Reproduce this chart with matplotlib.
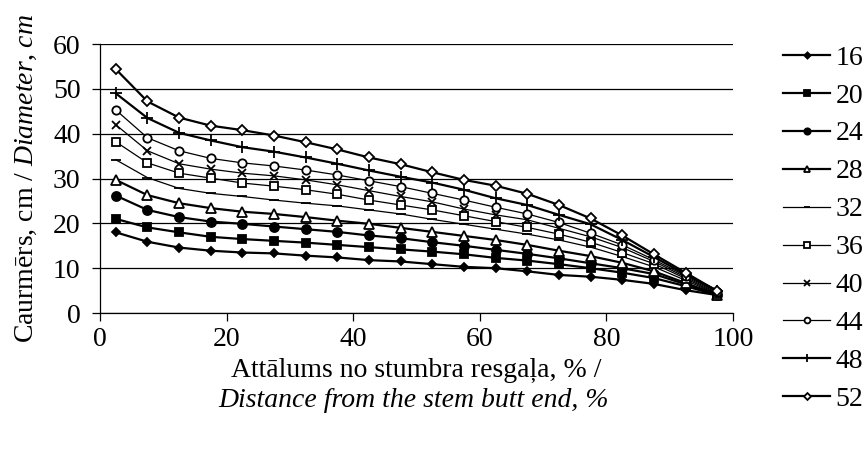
import matplotlib
matplotlib.use("Agg")
import matplotlib.pyplot as plt
import numpy as np

plt.rcParams['font.family'] = ['Liberation Serif', 'DejaVu Serif']
plt.rcParams['mathtext.fontset'] = 'custom'
plt.rcParams['mathtext.rm'] = 'Liberation Serif'
plt.rcParams['mathtext.it'] = 'Liberation Serif:italic'

# distance from butt end, %
distance = [2.5, 7.5, 12.5, 17.5, 22.5, 27.5, 32.5, 37.5, 42.5, 47.5,
            52.5, 57.5, 62.5, 67.5, 72.5, 77.5, 82.5, 87.5, 92.5, 97.5]

d16 = [18.0, 15.9, 14.6, 13.9, 13.5, 13.3, 12.8, 12.4, 11.8, 11.5,
       10.9, 10.3, 10.0, 9.3, 8.5, 8.1, 7.4, 6.5, 5.1, 4.0]
d20 = [21.0, 19.1, 18.0, 17.0, 16.5, 16.1, 15.7, 15.2, 14.7, 14.2,
       13.7, 13.1, 12.3, 11.7, 10.9, 10.0, 9.0, 7.8, 6.0, 4.0]
d24 = [26.2, 23.0, 21.4, 20.4, 19.9, 19.3, 18.7, 18.1, 17.3, 16.7,
       15.8, 15.0, 14.1, 13.2, 12.2, 11.1, 10.0, 8.7, 6.4, 4.0]
d28 = [29.7, 26.3, 24.5, 23.4, 22.6, 22.1, 21.4, 20.6, 19.9, 19.0,
       18.1, 17.2, 16.3, 15.2, 13.9, 12.7, 11.2, 9.3, 6.7, 4.1]
d32 = [34.2, 30.2, 27.8, 26.7, 26.0, 25.2, 24.5, 23.9, 23.0, 22.1,
       20.9, 19.8, 18.7, 17.6, 16.3, 14.7, 12.6, 10.3, 7.3, 4.2]
d36 = [38.2, 33.5, 31.2, 30.1, 29.0, 28.3, 27.5, 26.5, 25.2, 24.1,
       23.0, 21.7, 20.4, 19.1, 17.6, 15.8, 13.5, 11.0, 7.7, 4.3]
d40 = [42.0, 36.2, 33.3, 32.1, 31.2, 30.6, 29.7, 28.6, 27.3, 26.0,
       24.8, 23.2, 21.9, 20.8, 18.9, 17.0, 14.6, 11.5, 8.0, 4.5]
d44 = [45.3, 39.1, 36.2, 34.5, 33.5, 32.8, 31.9, 30.8, 29.5, 28.2,
       26.7, 25.2, 23.6, 22.1, 20.2, 17.8, 15.2, 11.9, 8.3, 4.7]
d48 = [49.0, 43.5, 40.2, 38.5, 37.0, 36.0, 34.7, 33.3, 31.8, 30.4,
       29.1, 27.5, 25.6, 24.1, 21.9, 19.8, 16.3, 12.5, 8.6, 5.0]
d52 = [54.4, 47.2, 43.6, 41.8, 40.8, 39.6, 38.1, 36.5, 34.7, 33.2,
       31.4, 29.7, 28.4, 26.6, 24.1, 21.1, 17.3, 13.1, 9.0, 4.9]

labels = ['16', '20', '24', '28', '32', '36', '40', '44', '48', '52']
series = [d16, d20, d24, d28, d32, d36, d40, d44, d48, d52]

# marker, filled, line width, marker size
styles = [
    ('D', True, 1.6, 4.5),
    ('s', True, 1.6, 6),
    ('o', True, 1.6, 6.5),
    ('^', False, 1.6, 6.5),
    ('_', True, 0.9, 7),
    ('s', False, 0.9, 6),
    ('x', True, 0.9, 6),
    ('o', False, 0.9, 6),
    ('+', True, 1.6, 8),
    ('D', False, 1.6, 5),
]

FS = 20

fig = plt.figure(figsize=(8.68, 4.5), dpi=100)
ax = fig.add_axes([0.1152, 0.3044, 0.7293, 0.5976])

for lab, ys, (mk, filled, lw, ms) in zip(labels, series, styles):
    ax.plot(distance, ys, color='black', lw=lw, marker=mk, markersize=ms,
            markerfacecolor='black' if filled else 'white',
            markeredgecolor='black', markeredgewidth=1.3, label=lab)

ax.set_xlim(0, 100)
ax.set_ylim(0, 60)
ax.set_xticks([0, 20, 40, 60, 80, 100])
ax.set_yticks([0, 10, 20, 30, 40, 50, 60])
ax.yaxis.grid(True, color='black', lw=0.9)
ax.set_axisbelow(True)
for s in ['top', 'right']:
    ax.spines[s].set_visible(False)
ax.spines['left'].set_linewidth(0.9)
ax.spines['bottom'].set_linewidth(0.9)
ax.tick_params(axis='both', labelsize=FS, direction='out', length=6, width=0.9)
ax.tick_params(axis='x', pad=4)
ax.tick_params(axis='y', pad=8)

fig.text(0.03, 0.604, r'Caurmērs, cm / $\mathit{Diameter}$, $\mathit{cm}$', rotation=90,
         ha='center', va='center', fontsize=FS)

fig.text(0.479, 0.176, 'Attālums no stumbra resgaļa, % /', ha='center', va='center', fontsize=FS)
fig.text(0.476, 0.109, 'Distance from the stem butt end, %', ha='center', va='center',
         fontsize=FS, style='italic')

leg = fig.legend(loc='center left', bbox_to_anchor=(0.902, 0.492), frameon=False,
                 fontsize=FS, handlelength=1.7, handletextpad=0.2, labelspacing=0.45,
                 borderpad=0, borderaxespad=0, markerscale=0.7)

fig.savefig('out.png', dpi=100)
